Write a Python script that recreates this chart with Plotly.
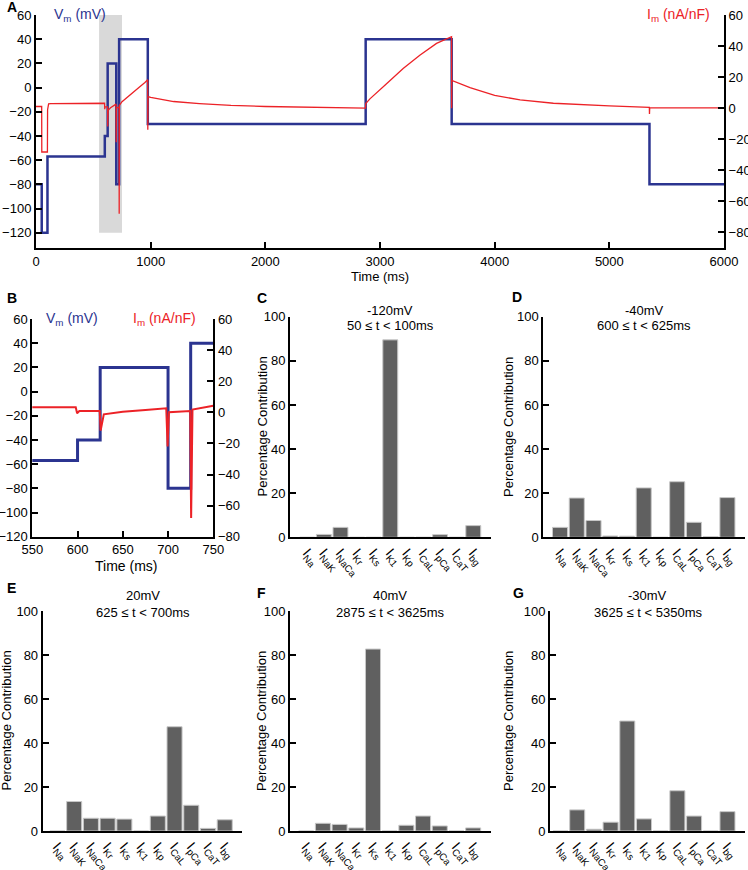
import plotly.graph_objects as go

W, H = 748, 870
FONT = "Liberation Sans, Arial, sans-serif"
BLUE = "#2b3490"
RED = "#ec2227"
BAR = "#606060"

# ---------------- data ----------------
# Voltage protocol (step levels, mV) and step start times (ms)
vm_times = [0, 50, 100, 600, 625, 700, 725, 975, 2875, 3625, 5350, 6000]
vm_levels = [-80, -120, -57, -40, 20, -80, 40, -30, 40, -30, -80]

# Membrane current samples (ms, nA/nF)
im_t = [0, 49.5, 50.5, 99.5, 101, 104, 110, 130, 598, 599.5, 602, 624.5, 625.5,
        629, 650, 675, 698, 699.5, 701, 724.5, 725.5, 727, 750, 800, 850, 900,
        950, 974, 975, 977, 1000, 1100, 1200, 1425, 1700, 2000, 2580, 2874, 2876,
        2912, 3057, 3202, 3347, 3493, 3624, 3625, 3626, 3785, 4000, 4222, 4512,
        5000, 5349, 5350, 5352, 6000]
im_v = [1.1, 1.1, -28.2, -28.2, -1.0, 2.0, 2.8, 3.0, 3.2, -0.6, 0.8, 0.8, -11.8,
        -1.3, 0.3, 1.5, 2.6, -22.0, 0.0, 0.8, -68.0, 1.8, 4.2, 7.5, 10.6, 13.5,
        16.6, 18.3, -13.9, 7.5, 6.9, 5.4, 4.3, 3.0, 1.8, 1.1, 0.5, 0.1, 3.0,
        6.0, 15.8, 25.5, 34.1, 41.7, 46.0, 0.0, 17.9, 13.2, 8.2, 5.4, 3.2,
        1.5, 0.6, -3.7, 0.2, 0.2]

highlight_window = [550, 750]

currents = ["Na", "NaK", "NaCa", "Kr", "Ks", "K1", "Kp", "CaL", "pCa", "CaT", "bg"]
pct_C = [0, 1.3, 4.5, 0, 0, 89.5, 0, 0, 1.2, 0, 5.3]
pct_D = [4.5, 17.8, 7.6, 0.6, 0.5, 22.4, 0, 25.2, 6.8, 0.3, 18.0]
pct_E = [0, 13.4, 5.8, 5.8, 5.4, 0, 6.8, 47.4, 11.7, 1.2, 5.1]
pct_F = [0, 3.5, 3.0, 1.4, 82.7, 0, 2.6, 6.8, 2.3, 0, 1.4]
pct_G = [0, 9.6, 0.8, 4.0, 50.0, 5.5, 0, 18.3, 6.8, 0, 8.8]

titles = {
    "C": ("-120mV", "50 \u2264 t < 100ms"),
    "D": ("-40mV", "600 \u2264 t < 625ms"),
    "E": ("20mV", "625 \u2264 t < 700ms"),
    "F": ("40mV", "2875 \u2264 t < 3625ms"),
    "G": ("-30mV", "3625 \u2264 t < 5350ms"),
}

# ---------------- helpers ----------------
def px(x):
    return x / W

def py(y):
    return 1 - y / H

axis_common = dict(showline=True, linewidth=2, linecolor="black", showgrid=False,
                   zeroline=False, ticks="inside", ticklen=6, tickwidth=2, automargin=False,
                   tickcolor="black", tickfont=dict(size=13, color="black", family=FONT))

fig = go.Figure()

vm_x = vm_times
vm_y = vm_levels + [vm_levels[-1]]

# Panel A
fig.add_trace(go.Scatter(x=vm_x, y=vm_y, mode="lines", line=dict(color=BLUE, width=2.5, shape="hv"),
                         xaxis="x", yaxis="y", showlegend=False))
fig.add_trace(go.Scatter(x=im_t, y=im_v, mode="lines", line=dict(color=RED, width=1.3),
                         xaxis="x", yaxis="y2", showlegend=False))
# Panel B
fig.add_trace(go.Scatter(x=vm_x, y=vm_y, mode="lines", line=dict(color=BLUE, width=3, shape="hv"),
                         xaxis="x2", yaxis="y3", showlegend=False))
fig.add_trace(go.Scatter(x=im_t, y=im_v, mode="lines", line=dict(color=RED, width=2),
                         xaxis="x2", yaxis="y4", showlegend=False))

layout = dict(width=W, height=H, margin=dict(l=0, r=0, t=0, b=0), autosize=False,
              paper_bgcolor="white", plot_bgcolor="white",
              font=dict(family=FONT, color="black", size=13), showlegend=False)

# A axes
layout["xaxis"] = dict(axis_common, domain=[px(36), px(724)], range=[0, 6000],
                       tickvals=[0, 1000, 2000, 3000, 4000, 5000, 6000], anchor="y")
layout["yaxis"] = dict(axis_common, domain=[py(248), py(15)], range=[-132.6, 60],
                       tickvals=list(range(-120, 61, 20)), anchor="x")
layout["yaxis2"] = dict(axis_common, range=[-90, 60], tickvals=list(range(-80, 61, 20)),
                        overlaying="y", side="right", anchor="x")
# B axes
layout["xaxis2"] = dict(axis_common, domain=[px(32.3), px(213.3)], range=[550, 750],
                        tickvals=[550, 600, 650, 700, 750], anchor="y3")
layout["yaxis3"] = dict(axis_common, domain=[py(536.7), py(319)], range=[-120, 60],
                        tickvals=list(range(-120, 61, 20)), anchor="x2")
layout["yaxis4"] = dict(axis_common, range=[-80, 60], tickvals=list(range(-80, 61, 20)),
                        overlaying="y3", side="right", anchor="x2")

# Bar panels: (key, values, x0px, x1px, xleft, ytop, ybot, title_y1, title_y2, ylabel_x, letter pos)
bar_panels = [
    ("C", pct_C, 290, 490.7, -1.04, 316.7, 537.3, 310, 325, 261.5, (255, 298)),
    ("D", pct_D, 543.3, 745, -1.0, 316.7, 537.3, 310, 325, 508, (510, 297)),
    ("E", pct_E, 42.7, 242.3, -0.88, 611, 831, 595, 612, 5.5, (5, 588)),
    ("F", pct_F, 290, 490.7, -0.97, 611, 831, 595, 612, 261, (255, 593)),
    ("G", pct_G, 550, 745, -0.63, 611, 831, 595, 612, 508, (511, 593)),
]

annotations = []
shapes = [dict(type="rect", xref="x", yref="y", x0=highlight_window[0], x1=highlight_window[1],
               y0=-120, y1=60, fillcolor="#d9d9d9", line=dict(width=0), layer="below")]

ticktext = ["I<sub>%s</sub>" % c for c in currents]
for i, (key, vals, x0, x1, xl, yt, yb, t1, t2, ylx, lp) in enumerate(bar_panels):
    xa = "x%d" % (i + 3)
    ya = "y%d" % (i + 5)
    fig.add_trace(go.Bar(x=list(range(len(currents))), y=vals, width=0.9,
                         marker=dict(color=BAR, line=dict(color="#c8c8c8", width=1)),
                         xaxis=xa, yaxis=ya, showlegend=False))
    layout["xaxis%d" % (i + 3)] = dict(showline=True, linewidth=2, linecolor="black", showgrid=False,
                                      zeroline=False, ticks="", domain=[px(x0), px(x1)], automargin=False,
                                      range=[xl, 11.05], tickvals=list(range(len(currents))),
                                      ticktext=ticktext, tickangle=50, anchor=ya,
                                      tickfont=dict(size=14, color="black", family=FONT))
    layout["yaxis%d" % (i + 5)] = dict(axis_common, domain=[py(yb), py(yt)], range=[0, 100],
                                      tickvals=[0, 20, 40, 60, 80, 100], anchor=xa)
    cx = (x0 + x1) / 2
    annotations.append(dict(x=px(cx), y=py(t1), xref="paper", yref="paper", text=titles[key][0],
                            showarrow=False, xanchor="center", yanchor="middle", font=dict(size=13)))
    annotations.append(dict(x=px(cx), y=py(t2), xref="paper", yref="paper", text=titles[key][1],
                            showarrow=False, xanchor="center", yanchor="middle", font=dict(size=13)))
    annotations.append(dict(x=px(ylx), y=py((yt + yb) / 2), xref="paper", yref="paper",
                            text="Percentage Contribution", textangle=-90, showarrow=False,
                            xanchor="center", yanchor="middle", font=dict(size=13)))
    annotations.append(dict(x=px(lp[0]), y=py(lp[1]), xref="paper", yref="paper",
                            text="<b>%s</b>" % key, showarrow=False, xanchor="left",
                            yanchor="middle", font=dict(size=14)))

# Panel A / B texts
annotations += [
    dict(x=px(5), y=py(7), text="<b>A</b>", xanchor="left", font=dict(size=14)),
    dict(x=px(5), y=py(298), text="<b>B</b>", xanchor="left", font=dict(size=14)),
    dict(x=px(52), y=py(15), text="V<sub>m</sub> (mV)", xanchor="left", font=dict(size=14, color=BLUE)),
    dict(x=px(712), y=py(15), text="I<sub>m</sub> (nA/nF)", xanchor="right", font=dict(size=14, color=RED)),
    dict(x=px(380), y=py(277), text="Time (ms)", xanchor="center", font=dict(size=13)),
    dict(x=px(44), y=py(319), text="V<sub>m</sub> (mV)", xanchor="left", font=dict(size=14, color=BLUE)),
    dict(x=px(198), y=py(319), text="I<sub>m</sub> (nA/nF)", xanchor="right", font=dict(size=14, color=RED)),
    dict(x=px(126), y=py(566), text="Time (ms)", xanchor="center", font=dict(size=14)),
]
for a in annotations:
    a.setdefault("xref", "paper")
    a.setdefault("yref", "paper")
    a.setdefault("showarrow", False)
    a.setdefault("yanchor", "middle")

layout["annotations"] = annotations
layout["shapes"] = shapes
fig.update_layout(**layout)
fig.write_html("out.html", config={"displayModeBar": False},
               post_script="document.body.style.margin='0';document.body.style.overflow='hidden';")
